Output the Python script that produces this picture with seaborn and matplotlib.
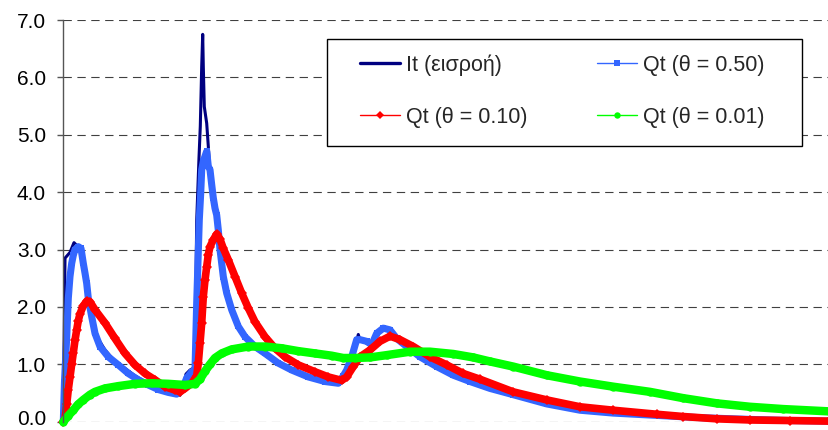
import numpy as np
import pandas as pd
import matplotlib
matplotlib.use("Agg")
import matplotlib.pyplot as plt
import matplotlib.transforms as mtransforms
import seaborn as sns
from matplotlib.lines import Line2D
from matplotlib.patches import Rectangle

# ---------------- data (time in arbitrary steps) -------------
t_inflow = [0, 1.7, 6.7, 10.7, 14.7, 17.7, 20.7, 24.7, 28.7, 34.7, 41.7, 51.7, 61.7, 71.7,
            81.7, 91.7, 101.7, 111.7, 116.7, 119.7, 122.7, 126.7, 131.7, 133.4, 135.7, 137.0,
            138.4, 139.4, 140.0, 141.0, 143.4, 145.0, 146.7, 148.4, 151.7, 155.0, 158.4, 163.4,
            168.4, 175.0, 181.7, 191.7, 201.7, 215.0, 228.4, 245.0, 261.7, 275.0, 279.0, 282.0,
            287.0, 292.0, 295.0, 296.7, 302.0, 308.0, 312.0, 317.0, 322.0, 327.0, 334.0, 343.4,
            356.7, 373.4, 390.0, 406.7, 426.7, 450.0, 483.4, 516.7, 550.0, 593.4, 636.7, 686.7,
            726.7, 765.7]
q_inflow = [0.0, 2.85, 2.95, 3.12, 3.05, 2.95, 2.65, 2.20, 1.80, 1.45, 1.25, 1.05, 0.93, 0.80,
            0.70, 0.60, 0.53, 0.47, 0.46, 0.60, 0.83, 0.90, 0.95, 3.50, 4.60, 5.15,
            6.19, 6.75, 6.19, 5.49, 5.20, 4.80, 4.33, 4.10, 3.75, 3.29, 2.76, 2.20,
            1.90, 1.62, 1.45, 1.28, 1.16, 1.00, 0.88, 0.76, 0.69, 0.66, 0.68, 0.85,
            1.10, 1.30, 1.52, 1.42, 1.38, 1.32, 1.45, 1.60, 1.62, 1.57, 1.43, 1.29,
            1.11, 0.94, 0.79, 0.68, 0.56, 0.45, 0.30, 0.19, 0.14, 0.10, 0.07, 0.04,
            0.02, 0.01]

t_q050 = [0, 1.2, 3.4, 5.0, 6.7, 8.4, 10.0, 11.7, 15.0, 17.7, 20.0, 21.7, 23.4, 25.0, 28.4,
          31.7, 36.7, 45.0, 55.0, 65.0, 75.0, 85.0, 95.0, 105.0, 113.4, 118.4, 123.4, 128.4,
          131.7, 133.4, 136.0, 137.4, 138.4, 140.0, 143.4, 145.0, 146.7, 148.4, 150.0, 151.7,
          153.4, 155.0, 156.7, 158.4, 160.0, 163.4, 168.4, 175.0, 181.7, 191.7, 201.7, 215.0,
          228.4, 245.0, 261.7, 275.0, 280.0, 283.4, 288.4, 293.4, 296.7, 303.4, 308.4, 313.4,
          320.0, 326.7, 333.4, 343.4, 356.7, 373.4, 390.0, 406.7, 426.7, 450.0, 483.4, 516.7,
          550.0, 593.4, 636.7, 686.7, 726.7, 765.7]
q_q050 = [0.0, 0.70, 1.47, 2.15, 2.53, 2.76, 2.90, 3.00, 3.05, 3.02, 2.76, 2.59, 2.41, 2.15, 1.83,
          1.54, 1.31, 1.13, 0.99, 0.84, 0.73, 0.64, 0.56, 0.51, 0.48, 0.55, 0.76, 0.87,
          0.90, 2.07, 3.52, 3.98, 4.39, 4.54, 4.71, 4.45, 4.39, 4.13, 3.90, 3.72,
          3.60, 3.34, 3.00, 2.76, 2.53, 2.24, 1.95, 1.66, 1.48, 1.31, 1.19, 1.02,
          0.90, 0.78, 0.70, 0.67, 0.80, 0.90, 1.13, 1.43, 1.43, 1.40, 1.34, 1.54,
          1.63, 1.60, 1.45, 1.31, 1.13, 0.96, 0.81, 0.70, 0.58, 0.47, 0.31, 0.20,
          0.15, 0.11, 0.07, 0.04, 0.02, 0.01]

t_q010 = [0, 1.7, 3.4, 5.0, 6.7, 8.4, 10.0, 11.7, 13.4, 15.0, 16.7, 20.0, 23.4, 26.7, 31.7,
          41.7, 51.7, 61.7, 71.7, 81.7, 91.7, 101.7, 111.7, 116.7, 121.7, 128.4, 133.4, 135.0,
          136.7, 138.4, 140.0, 141.7, 143.4, 145.0, 146.7, 150.0, 153.4, 156.7, 160.0, 165.0,
          171.7, 178.4, 185.0, 191.7, 201.7, 211.7, 221.7, 235.0, 251.7, 265.0, 278.4, 283.4,
          290.0, 296.7, 306.7, 316.7, 326.7, 336.7, 350.0, 366.7, 383.4, 400.0, 416.7, 450.0,
          483.4, 516.7, 550.0, 593.4, 620.0, 653.4, 686.7, 726.7, 765.7]
q_q010 = [0.0, 0.05, 0.30, 0.56, 0.78, 1.00, 1.20, 1.42, 1.60, 1.76, 1.88, 2.02, 2.10, 2.09, 1.95,
          1.72, 1.45, 1.19, 0.99, 0.84, 0.73, 0.61, 0.55, 0.52, 0.58, 0.67, 0.80, 1.02,
          1.37, 1.72, 2.18, 2.47, 2.70, 2.91, 3.05, 3.17, 3.27, 3.18, 3.02, 2.82,
          2.53, 2.24, 1.98, 1.74, 1.48, 1.28, 1.13, 0.99, 0.87, 0.78, 0.72, 0.78,
          0.96, 1.13, 1.25, 1.40, 1.49, 1.43, 1.31, 1.13, 0.99, 0.84, 0.74, 0.52,
          0.38, 0.26, 0.20, 0.13, 0.09, 0.05, 0.03, 0.02, 0.01]

t_q001 = [0, 4.7, 10.0, 14.7, 20.0, 26.7, 31.7, 41.7, 55.0, 71.7, 88.4, 105.0, 121.7, 131.7,
          136.7, 141.7, 146.7, 151.7, 158.4, 168.4, 185.0, 201.7, 218.4, 235.0, 251.7, 268.4,
          280.0, 291.7, 306.7, 323.4, 346.7, 366.7, 390.0, 410.0, 426.7, 450.0, 483.4, 516.7,
          550.0, 586.7, 620.0, 653.4, 686.7, 720.0, 765.7]
q_q001 = [0.0, 0.10, 0.20, 0.30, 0.38, 0.47, 0.52, 0.58, 0.62, 0.66, 0.67, 0.66, 0.64, 0.66,
          0.74, 0.88, 1.00, 1.11, 1.19, 1.26, 1.31, 1.31, 1.28, 1.23, 1.19, 1.15,
          1.11, 1.11, 1.12, 1.16, 1.22, 1.22, 1.18, 1.12, 1.05, 0.96, 0.81, 0.70,
          0.61, 0.52, 0.41, 0.32, 0.26, 0.22, 0.18]

series_labels = ["It (εισροή)", "Qt (θ = 0.50)", "Qt (θ = 0.10)", "Qt (θ = 0.01)"]
y_ticks = [0, 1, 2, 3, 4, 5, 6, 7]
y_tick_labels = ["0.0", "1.0", "2.0", "3.0", "4.0", "5.0", "6.0", "7.0"]

# ---------------- style ----------------
sns.set_style("white")
plt.rcParams['font.family'] = ['Liberation Sans', 'DejaVu Sans']

W, H = 829, 430
fig = plt.figure(figsize=(W / 100, H / 100), dpi=100)
x0, x1, ytop, ybot = 63.3, 829.0, 20.0, 421.7
ax = fig.add_axes([x0 / W, (H - ybot) / H, (x1 - x0) / W, (ybot - ytop) / H])

C_IT = "#000080"
C_50 = "#3366FF"
C_10 = "#FF0000"
C_01 = "#00FF00"

sns.lineplot(data=pd.DataFrame({"t": t_inflow, "q": q_inflow}), x="t", y="q", ax=ax,
             color=C_IT, linewidth=2.2, sort=False, estimator=None, legend=False,
             clip_on=False, zorder=2)
sns.lineplot(data=pd.DataFrame({"t": t_q050, "q": q_q050}), x="t", y="q", ax=ax,
             color=C_50, linewidth=5.1, marker="s", markersize=5.0, markeredgewidth=0,
             sort=False, estimator=None, legend=False, clip_on=False, zorder=2.1)
sns.lineplot(data=pd.DataFrame({"t": t_q010, "q": q_q010}), x="t", y="q", ax=ax,
             color=C_10, linewidth=5.5, marker="D", markersize=5.2, markeredgewidth=0,
             sort=False, estimator=None, legend=False, clip_on=False, zorder=2.2)
sns.lineplot(data=pd.DataFrame({"t": t_q001, "q": q_q001}), x="t", y="q", ax=ax,
             color=C_01, linewidth=6.1, marker="o", markersize=6.0, markeredgewidth=0,
             sort=False, estimator=None, legend=False, clip_on=False, zorder=2.3)

ax.set_xlim(0, 765.7)
ax.set_ylim(0, 7)
ax.set_xticks([])
ax.set_yticks(y_ticks)
ax.set_yticklabels(y_tick_labels)
ax.set_xlabel("")
ax.set_ylabel("")
for s in ["top", "right", "bottom"]:
    ax.spines[s].set_visible(False)
ax.spines["left"].set_color("#555555")
ax.spines["left"].set_linewidth(1.0)
ax.tick_params(axis="y", left=True, length=4.5, width=1.0, color="#555555", pad=8,
               labelsize=15, labelcolor="black")
ax.yaxis.grid(True, linestyle=(0, (7.5, 5)), linewidth=0.8, color="#404040")
ax.set_axisbelow(True)

# keep the lowest tick label fully inside the canvas
lbl0 = ax.get_yticklabels()[0]
lbl0.set_transform(lbl0.get_transform() +
                   mtransforms.ScaledTranslation(0, 4 / 100, fig.dpi_scale_trans))

# legend box
ax.add_patch(Rectangle((327 / W, 1 - 146 / H), (802 - 327) / W, (146 - 39.3) / H,
                       transform=fig.transFigure, facecolor="white", edgecolor="black",
                       linewidth=1.0, zorder=4))
h_it = Line2D([], [], color=C_IT, linewidth=2.4)
h_50 = Line2D([], [], color=C_50, linewidth=1.0, marker="s", markersize=4.2, markeredgewidth=0)
h_10 = Line2D([], [], color=C_10, linewidth=1.0, marker="D", markersize=4.2, markeredgewidth=0)
h_01 = Line2D([], [], color=C_01, linewidth=1.0, marker="o", markersize=4.6, markeredgewidth=0)
leg = ax.legend([h_it, h_10, h_50, h_01],
                [series_labels[0], series_labels[2], series_labels[1], series_labels[3]],
                ncol=2, frameon=False, loc="upper left",
                bbox_to_anchor=(360 / W, 1 - 54 / H), bbox_transform=fig.transFigure,
                borderpad=0, borderaxespad=0, handlelength=1.85, handletextpad=0.3,
                columnspacing=3.2, labelspacing=1.45, fontsize=15.5)
leg.set_zorder(5)

fig.savefig("out.png", dpi=100)
